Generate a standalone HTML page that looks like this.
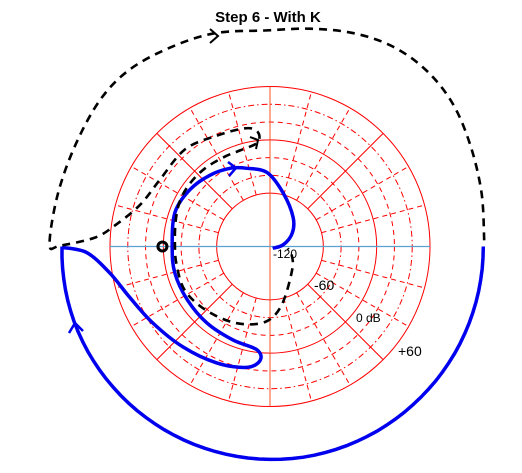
<!DOCTYPE html>
<html><head><meta charset="utf-8"><style>
html,body{margin:0;padding:0;background:#fff;}
svg{display:block;font-family:"Liberation Sans",Arial,sans-serif;}
</style></head><body>
<svg id="chart" width="522" height="473" viewBox="0 0 522 473" xmlns="http://www.w3.org/2000/svg">
<rect width="522" height="473" fill="#fff"/>
<text x="268" y="22" text-anchor="middle" font-size="15" font-weight="bold">Step 6 - With K</text>
<g id="grid"></g>
<g id="series"></g>
<text x="273" y="258" font-size="12">-120</text>
<text x="314" y="290" font-size="14">-60</text>
<text x="356" y="322" font-size="12">0 dB</text>
<text x="398" y="356" font-size="14">+60</text>
</svg>
<script>
// grid rings (dB) and styles
const ringDb = [-60, -40, -20, 0, 20, 40, 60];
const ringStyle = ['solid', 'dashdot', 'dash', 'solid', 'dash', 'dashdot', 'solid'];
const spokeAngles = [15,30,60,75,105,120,150,165,195,210,240,255,285,300,330,345];
const diagAngles = [45,135,225,315];
// big outer arc (blue) in polar units
const arcAngles = [0,-20,-40,-60,-80,-100,-120,-140,-160,-170,-180];
const arcRadius = [240,240,240,240,240,239,238,237,236,235,234];
// dashed black contour (units: 180 = outer ring)
const dashX = [241,238,226,206,176,138,94,45,-6,-62,-112,-158,-191,-219,-239,-248,-236,-197,-174,-146,-124,-96,-62,-28,-14,-14,-34,-51,-73,-90,-101,-106,-107,-105,-96,-73,-39,-6,13,25,24,20];
const dashY = [7,60,112,160,198,225,240,245,243,240,224,199,165,114,58,2,1,10,24,47,75,109,124,133,129,117,108,101,88,71,52,30,2,-21,-49,-71,-86,-85,-66,-26,-8,-2];
// blue inner curve
const blueX = [-234,-206,-180,-158,-132,-98,-60,-26,-11,-15,-42,-71,-93,-107,-110,-107,-90,-68,-45,-26,-3,15,26,25,15,3];
const blueY = [-1,-7,-30,-57,-86,-113,-131,-136,-128,-116,-105,-86,-60,-30,-1,38,64,80,88,88,83,60,33,15,2,-2];
const criticalPoint = [-121, 0];

const CX = 270, CY = 246.5, K = 160/180;
const sx = u => CX + u*K;
const sy = v => CY - v*K;
const rOfDb = d => (d+120)*K;
const NS = 'http://www.w3.org/2000/svg';
const grid = document.getElementById('grid');
const ser = document.getElementById('series');
function mk(tag, attrs, parent){ const e=document.createElementNS(NS,tag); for(const k in attrs) e.setAttribute(k,attrs[k]); parent.appendChild(e); return e; }

const Rout = rOfDb(60), Rin = rOfDb(-60);
ringDb.forEach((d,i)=>{
  const st = ringStyle[i];
  const c = mk('circle',{cx:CX,cy:CY,r:rOfDb(d),fill:'none',stroke:'#ff0000','stroke-width':1,'stroke-dasharray': st==='solid'?'none':(st==='dash'?'5,4':'6,3,1.5,3')},grid);
  
  
});
spokeAngles.forEach(a=>{
  const t=a*Math.PI/180;
  const l=mk('line',{x1:CX+Rin*Math.cos(t),y1:CY-Rin*Math.sin(t),x2:CX+Rout*Math.cos(t),y2:CY-Rout*Math.sin(t),stroke:'#ff0000','stroke-width':1,'stroke-dasharray':'5,4'},grid);
  
  
});
diagAngles.forEach(a=>{
  const t=a*Math.PI/180;
  const l=mk('line',{x1:CX+Rin*Math.cos(t),y1:CY-Rin*Math.sin(t),x2:CX+Rout*Math.cos(t),y2:CY-Rout*Math.sin(t),stroke:'#ff0000','stroke-width':1},grid);
  
  
});
const vl=mk('line',{x1:CX,y1:CY-Rout,x2:CX,y2:CY+Rout,stroke:'#ff5020','stroke-width':1},grid);


const hl=mk('line',{x1:CX-Rout,y1:CY,x2:CX+Rout,y2:CY,stroke:'#5aa0d0','stroke-width':1.3},grid);



function smooth(xs,ys){
  const P=xs.map((x,i)=>[sx(x),sy(ys[i])]);
  let d='M'+P[0][0].toFixed(1)+','+P[0][1].toFixed(1);
  for(let i=0;i<P.length-1;i++){
    const p0=P[Math.max(0,i-1)],p1=P[i],p2=P[i+1],p3=P[Math.min(P.length-1,i+2)];
    const c1=[p1[0]+(p2[0]-p0[0])/6,p1[1]+(p2[1]-p0[1])/6];
    const c2=[p2[0]-(p3[0]-p1[0])/6,p2[1]-(p3[1]-p1[1])/6];
    d+=' C'+c1[0].toFixed(1)+','+c1[1].toFixed(1)+' '+c2[0].toFixed(1)+','+c2[1].toFixed(1)+' '+p2[0].toFixed(1)+','+p2[1].toFixed(1);
  }
  return d;
}
// blue arc
let dArc='';
for(let a=0;a>=-180;a-=3){ let i1=arcAngles.findIndex(v=>v<=a); i1=Math.max(1,i1); const i0=i1-1; const f=(a-arcAngles[i0])/(arcAngles[i1]-arcAngles[i0]); const r=arcRadius[i0]+f*(arcRadius[i1]-arcRadius[i0]); dArc+=(dArc?' L':'M')+sx(r*Math.cos(a*Math.PI/180)).toFixed(1)+','+sy(r*Math.sin(a*Math.PI/180)).toFixed(1); }
const pa=mk('path',{d:dArc,fill:'none',stroke:'#0000ee','stroke-width':3.5},ser);


const pb=mk('path',{d:smooth(blueX,blueY),fill:'none',stroke:'#0000ee','stroke-width':3.5,'stroke-linejoin':'round'},ser);


const pd=mk('path',{d:smooth(dashX,dashY),fill:'none',stroke:'#000','stroke-width':2.6,'stroke-dasharray':'8,6'},ser);


// arrows
const arrows=[['M210,29 L218,36 L210,43','#000',2],['M250,137 L258,140 L256,149','#000',2],['M228,162 L236,168 L229,176','#0000ee',2.5],['M69,333 L75,323 L83,331','#0000ee',2.5]];
arrows.forEach(a=>{ const p=mk('path',{d:a[0],fill:'none',stroke:a[1],'stroke-width':a[2]},ser);

 });
const cp=mk('circle',{cx:sx(criticalPoint[0]),cy:sy(criticalPoint[1]),r:4.5,fill:'none',stroke:'#000','stroke-width':3},ser);


</script>
</body></html>
